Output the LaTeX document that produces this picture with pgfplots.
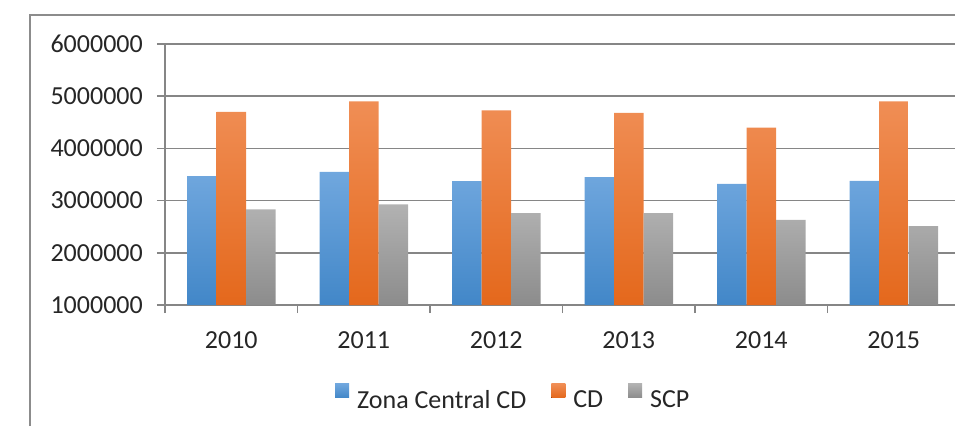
\documentclass[border=0pt]{standalone}
\usepackage{pgfplots}
\pgfplotsset{compat=1.18}
\usepackage{fontspec}
\setmainfont{Carlito}
\definecolor{gridgray}{RGB}{134,134,134}
\definecolor{framegray}{RGB}{140,140,140}
\definecolor{txt}{RGB}{38,38,38}
\definecolor{blueT}{RGB}{112,167,222}
\definecolor{blueB}{RGB}{66,135,200}
\definecolor{orT}{RGB}{240,142,85}
\definecolor{orB}{RGB}{228,104,28}
\definecolor{grT}{RGB}{178,178,178}
\definecolor{grB}{RGB}{140,140,140}
\begin{document}
\begin{tikzpicture}
\useasboundingbox (0pt,0pt) rectangle (955pt,426pt);
\draw[framegray, line width=1.5pt] (30pt,0pt) -- (30pt,411pt) -- (955pt,411pt);
\begin{axis}[
  at={(165pt,121pt)}, anchor=south west,
  scale only axis, width=795pt, height=261pt,
  xmin=-0.5, xmax=5.5, ymin=1000000, ymax=6000000,
  ybar=0pt, bar width=29.5pt,
  axis x line*=bottom, axis y line*=left,
  axis line style={gridgray, line width=1.5pt, -},
  ytick={1000000,2000000,3000000,4000000,5000000,6000000},
  scaled y ticks=false,
  /pgf/number format/fixed, /pgf/number format/1000 sep={}, /pgf/number format/assume math mode=true,
  ymajorgrids, grid style={gridgray, line width=1.5pt},
  tick align=outside,
  ytick style={gridgray, line width=1.5pt},
  major tick length=8pt,
  xtick={0,1,2,3,4,5},
  xticklabels={2010,2011,2012,2013,2014,2015},
  xtick style={draw=none},
  extra x ticks={-0.5,0.5,1.5,2.5,3.5,4.5,5.5},
  extra x tick labels={},
  extra x tick style={grid=none, xtick style={draw=gridgray, line width=1.5pt}},
  yticklabel style={font=\fontsize{26pt}{30pt}\selectfont, text=txt, inner sep=0pt, xshift=-14pt},
  xticklabel style={font=\fontsize{26pt}{30pt}\selectfont, text=txt, inner sep=0pt, yshift=-18pt},
  legend style={at={(0.2138,-0.351)}, anchor=west, draw=none, fill=none, inner sep=0pt,
    font=\fontsize{26pt}{30pt}\selectfont, text=txt,
    nodes={inner sep=0pt},
    /tikz/every even column/.append style={column sep=25pt},
    /tikz/every odd column/.append style={column sep=8pt}},
  legend columns=3,
  legend image code/.code={\fill[#1] (0pt,2pt) rectangle (14pt,16pt);},
]
\addplot[draw=none, top color=blueT, bottom color=blueB] coordinates {(0,3470000) (1,3550000) (2,3375000) (3,3450000) (4,3320000) (5,3380000)};
\addplot[draw=none, top color=orT, bottom color=orB] coordinates {(0,4700000) (1,4900000) (2,4730000) (3,4680000) (4,4400000) (5,4900000)};
\addplot[draw=none, top color=grT, bottom color=grB] coordinates {(0,2830000) (1,2930000) (2,2760000) (3,2760000) (4,2630000) (5,2510000)};
\legend{Zona Central CD, CD, SCP}
\end{axis}
\end{tikzpicture}
\end{document}
